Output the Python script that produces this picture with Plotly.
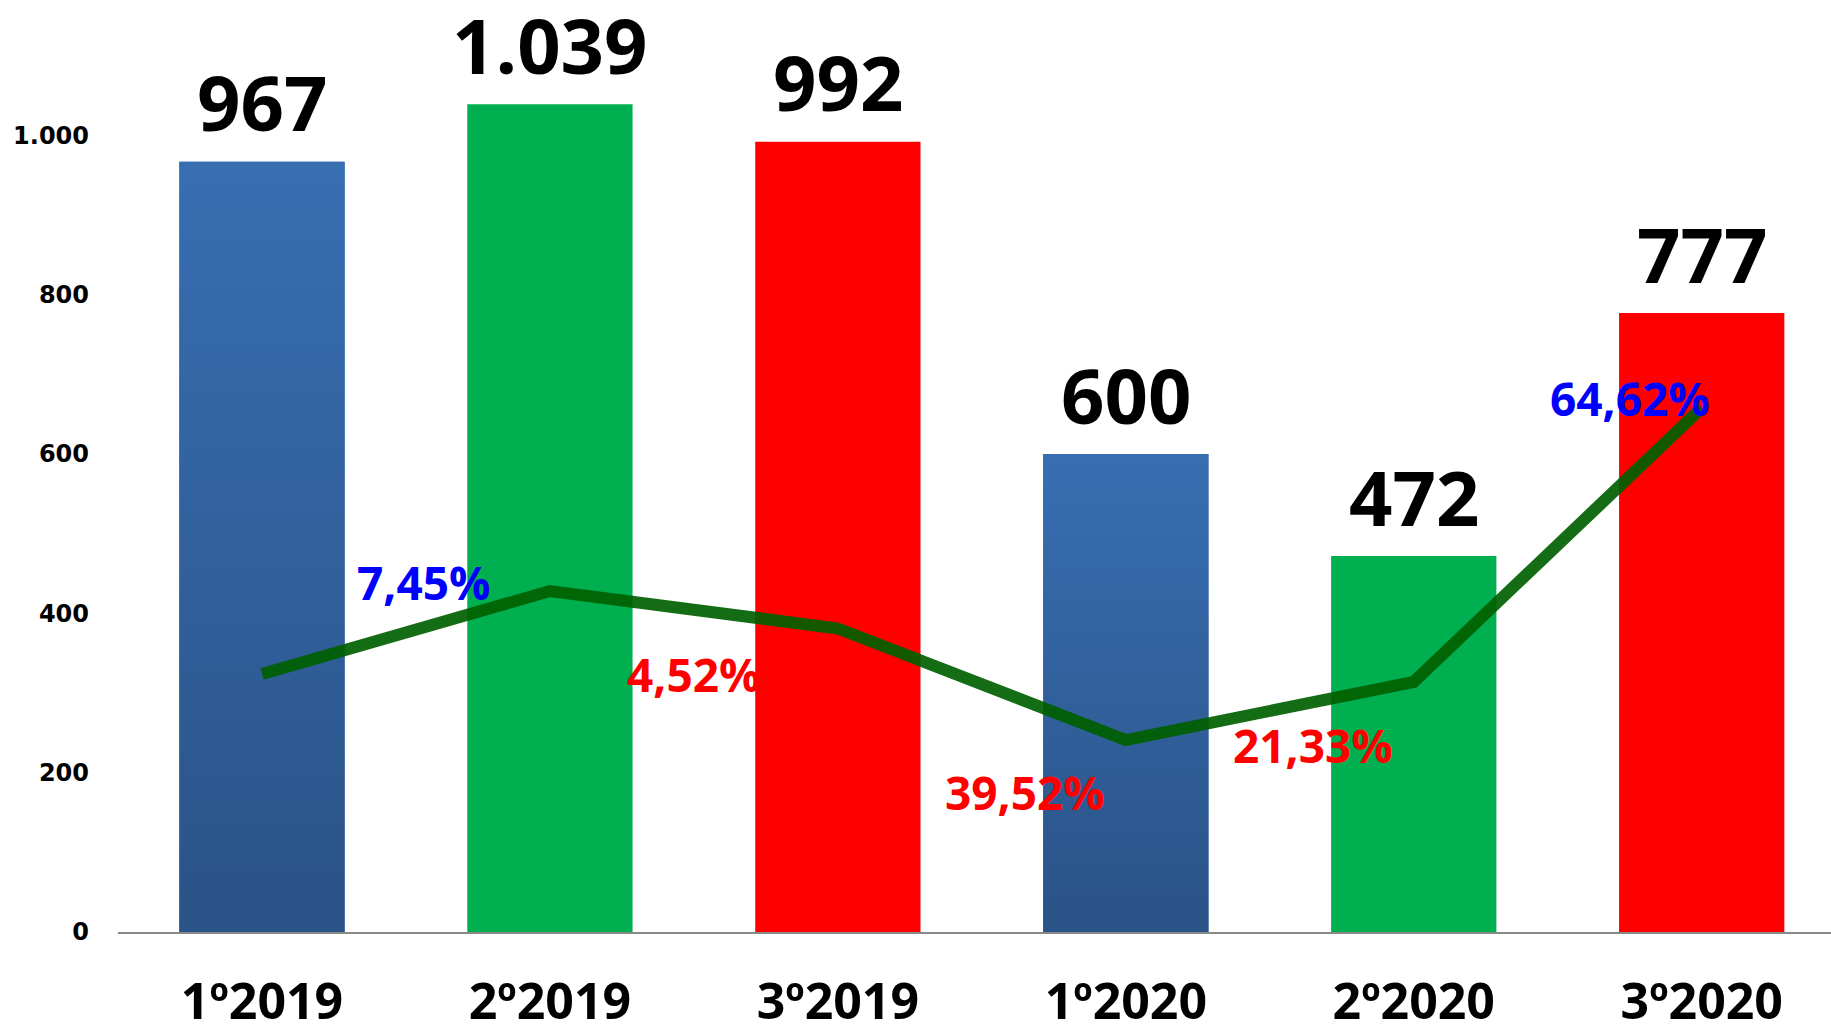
import plotly.graph_objects as go

categories = ["1º2019", "2º2019", "3º2019", "1º2020", "2º2020", "3º2020"]
values = [967, 1039, 992, 600, 472, 777]
bar_colors = ["#3366A8", "#00B050", "#FF0000", "#3366A8", "#00B050", "#FF0000"]
gradient_bars = [True, False, False, True, False, False]
line_values = [324, 428, 381, 241, 314, 658]
pct_labels = ["7,45%", "4,52%", "39,52%", "21,33%", "64,62%"]
pct_colors = ["#0000FF", "#FF0000", "#FF0000", "#FF0000", "#0000FF"]
y_ticks = [0, 200, 400, 600, 800, 1000]
y_ticktext = ["0", "200", "400", "600", "800", "1.000"]

# layout-only placement of percentage labels (offset from midpoint, y level)
pct_dx = [0.06, 0.0, 0.15, 0.15, 0.25]
pct_y = [440, 324, 176, 235, 670]

BAR_W = 0.574
xs = list(range(len(categories)))

fig = go.Figure()
fig.add_trace(go.Bar(x=xs, y=values, width=BAR_W, marker=dict(color=bar_colors, line=dict(width=0)),
                     hoverinfo="skip", showlegend=False))

# gradient overlay for blue bars
for i, (v, g) in enumerate(zip(values, gradient_bars)):
    if g:
        fig.add_trace(go.Scatter(
            x=[i - BAR_W / 2, i + BAR_W / 2, i + BAR_W / 2, i - BAR_W / 2, i - BAR_W / 2],
            y=[0, 0, v, v, 0], mode="lines", line=dict(width=0), fill="toself",
            fillgradient=dict(type="vertical", colorscale=[[0, "#2A5387"], [1, "#386EB2"]]),
            hoverinfo="skip", showlegend=False))

fig.add_trace(go.Scatter(x=xs, y=line_values, mode="lines",
                         line=dict(color="rgba(0,95,0,0.92)", width=12),
                         hoverinfo="skip", showlegend=False))

for i, v in enumerate(values):
    fig.add_annotation(x=i, y=v, text=f"{v:,}".replace(",", "."), showarrow=False,
                       yanchor="middle", yshift=60,
                       font=dict(family="Open Sans", size=76, color="black", weight="bold"))

for i, (t, c) in enumerate(zip(pct_labels, pct_colors)):
    fig.add_annotation(x=i + 0.5 + pct_dx[i], y=pct_y[i], text=t, showarrow=False,
                       xanchor="center", yanchor="middle",
                       font=dict(family="Open Sans", size=46, color=c, weight="bold"))

fig.update_layout(
    width=1831, height=1024,
    margin=dict(l=118, r=0, t=0, b=92, autoexpand=False),
    paper_bgcolor="white", plot_bgcolor="white",
    separators=",.",
    xaxis=dict(range=[-0.5, 5.449], tickvals=xs, ticktext=categories, showgrid=False,
               zeroline=False, showline=True, linecolor="#898989", linewidth=2,
               ticks="", ticklabelstandoff=25, automargin=False,
               tickfont=dict(family="Open Sans", size=50, color="black", weight="bold")),
    yaxis=dict(range=[0, 1170], tickvals=y_ticks, ticktext=y_ticktext, showgrid=False,
               zeroline=False, showline=False, ticks="", ticklabelstandoff=28, automargin=False,
               tickfont=dict(family="DejaVu Sans", size=24, color="black", weight="bold")),
)

fig.write_html("out.html", post_script="document.body.style.margin='0';",
               config={"displayModeBar": False})
